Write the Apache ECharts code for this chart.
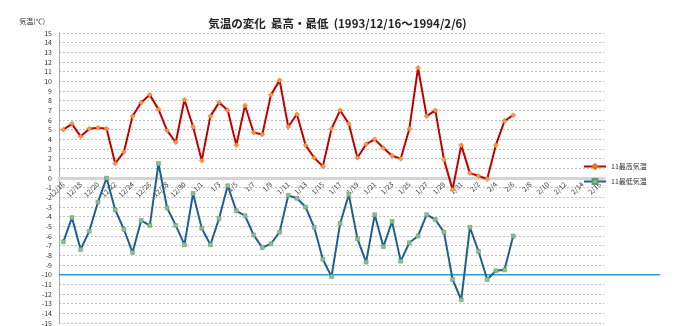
<!DOCTYPE html>
<html>
<head>
<meta charset="utf-8">
<script src="https://cdn.jsdelivr.net/npm/echarts@6/dist/echarts.min.js"></script>
<style>
  html, body { margin: 0; padding: 0; background: #fff; }
  #chart { width: 675px; height: 326px; outline: 1px solid #bfbfbf; outline-offset: -1px; }
</style>
</head>
<body>
<div id="chart"></div>
<script>
// Daily dates, 1993/12/16 - 1994/2/16
const categories = [
  '12/16','12/17','12/18','12/19','12/20','12/21','12/22','12/23','12/24','12/25','12/26','12/27','12/28','12/29','12/30','12/31',
  '1/1','1/2','1/3','1/4','1/5','1/6','1/7','1/8','1/9','1/10','1/11','1/12','1/13','1/14','1/15','1/16',
  '1/17','1/18','1/19','1/20','1/21','1/22','1/23','1/24','1/25','1/26','1/27','1/28','1/29','1/30','1/31',
  '2/1','2/2','2/3','2/4','2/5','2/6','2/7','2/8','2/9','2/10','2/11','2/12','2/13','2/14','2/15','2/16'
];

// Daily maximum temperature (°C), 12/16 - 2/6
const maxTemps = [
  5.0, 5.6, 4.3, 5.1, 5.2, 5.1, 1.5, 2.7, 6.4, 7.8, 8.6, 7.1, 4.9, 3.7, 8.1, 5.3,
  1.8, 6.4, 7.8, 7.0, 3.4, 7.5, 4.7, 4.5, 8.6, 10.1, 5.3, 6.6, 3.4, 2.1, 1.2, 5.1,
  7.0, 5.6, 2.1, 3.5, 4.0, 3.1, 2.3, 2.0, 5.1, 11.4, 6.4, 7.0, 1.9, -1.2, 3.4,
  0.5, 0.2, -0.1, 3.4, 5.9, 6.5
];

// Daily minimum temperature (°C), 12/16 - 2/6
const minTemps = [
  -6.6, -4.1, -7.4, -5.5, -2.5, 0.0, -3.3, -5.3, -7.7, -4.4, -4.9, 1.5, -3.1, -4.9, -6.9, -1.6,
  -5.2, -6.9, -4.2, -0.8, -3.4, -3.9, -5.9, -7.2, -6.8, -5.6, -1.8, -2.1, -3.0, -5.1, -8.4, -10.2,
  -4.7, -1.7, -6.3, -8.7, -3.8, -7.1, -4.5, -8.6, -6.7, -6.0, -3.8, -4.3, -5.6, -10.5, -12.6,
  -5.1, -7.6, -10.5, -9.6, -9.5, -6.0
];

// Reference level
const refLevel = -10;

const yTicks = { min: -15, max: 15, interval: 1 };

const FONT = '"Noto Sans CJK JP", "Noto Sans", sans-serif';

// Plot box
const PLOT_TOP = 33;
const PLOT_BOTTOM = 3;
const PLOT_H = 326 - PLOT_TOP - PLOT_BOTTOM;
// Shift that puts the date axis on the 0 °C line
const zeroOffset = -PLOT_H * (0 - yTicks.min) / (yTicks.max - yTicks.min);

const chart = echarts.init(document.getElementById('chart'), null, { renderer: 'canvas' });

chart.setOption({
  animation: false,
  backgroundColor: '#ffffff',
  textStyle: { fontFamily: FONT },
  title: {
    text: '気温の変化  最高・最低  (1993/12/16～1994/2/6)',
    left: 'center',
    top: 13,
    textStyle: { fontFamily: FONT, fontSize: 11.5, fontWeight: 'bold', color: '#222' }
  },
  legend: {
    orient: 'vertical',
    left: 578,
    top: 158,
    itemWidth: 22,
    itemHeight: 6,
    itemGap: 8,
    textStyle: { fontFamily: FONT, fontSize: 7, color: '#333' },
    data: ['11最高気温', '11最低気温']
  },
  grid: [
    { left: 59, right: 71, top: PLOT_TOP, bottom: PLOT_BOTTOM, containLabel: false, outerBoundsMode: 'none' },
    { left: 59, right: 15, top: PLOT_TOP, bottom: PLOT_BOTTOM, containLabel: false, outerBoundsMode: 'none' }
  ],
  xAxis: [
    {
      type: 'category',
      gridIndex: 0,
      data: categories,
      boundaryGap: true,
      offset: zeroOffset,
      axisLine: { onZero: false, lineStyle: { color: '#d4d4d4', width: 3 } },
      axisTick: { show: false },
      axisLabel: {
        interval: 1,
        rotate: 45,
        fontSize: 7,
        color: '#333',
        margin: 5,
        fontFamily: FONT
      },
      splitLine: { show: false }
    },
    {
      type: 'value',
      gridIndex: 1,
      min: 0,
      max: 1,
      show: false
    }
  ],
  yAxis: [
    {
      type: 'value',
      gridIndex: 0,
      min: yTicks.min,
      max: yTicks.max,
      interval: yTicks.interval,
      name: '気温(℃)',
      nameLocation: 'end',
      nameGap: 8,
      nameTextStyle: { fontSize: 7, color: '#333', align: 'right', padding: [0, 14, 0, 0], fontFamily: FONT },
      axisLine: { show: true, lineStyle: { color: '#a6a6a6', width: 1 } },
      axisTick: { show: false },
      axisLabel: { fontSize: 7, color: '#333', margin: 7, fontFamily: FONT },
      splitLine: { show: true, lineStyle: { color: '#bfbfbf', type: [2, 2], width: 1 } }
    },
    {
      type: 'value',
      gridIndex: 1,
      min: yTicks.min,
      max: yTicks.max,
      show: false
    }
  ],
  series: [
    {
      name: '11最高気温',
      type: 'line',
      xAxisIndex: 0,
      yAxisIndex: 0,
      data: maxTemps,
      symbol: 'diamond',
      symbolSize: 5,
      lineStyle: { color: '#c00000', width: 2 },
      itemStyle: { color: '#f79646', borderColor: '#e46c0a', borderWidth: 0.5 },
      z: 3
    },
    {
      name: '11最低気温',
      type: 'line',
      xAxisIndex: 0,
      yAxisIndex: 0,
      data: minTemps,
      symbol: 'rect',
      symbolSize: 4,
      lineStyle: { color: '#1f5f8f', width: 2 },
      itemStyle: { color: '#8fbc8f', borderColor: '#5f9a6a', borderWidth: 0.5 },
      z: 3
    },
    {
      name: 'ref',
      type: 'line',
      xAxisIndex: 1,
      yAxisIndex: 1,
      data: [[0, refLevel], [1, refLevel]],
      symbol: 'none',
      lineStyle: { color: '#2aa0d6', width: 1.5 },
      silent: true,
      z: 2
    }
  ]
});
</script>
</body>
</html>
